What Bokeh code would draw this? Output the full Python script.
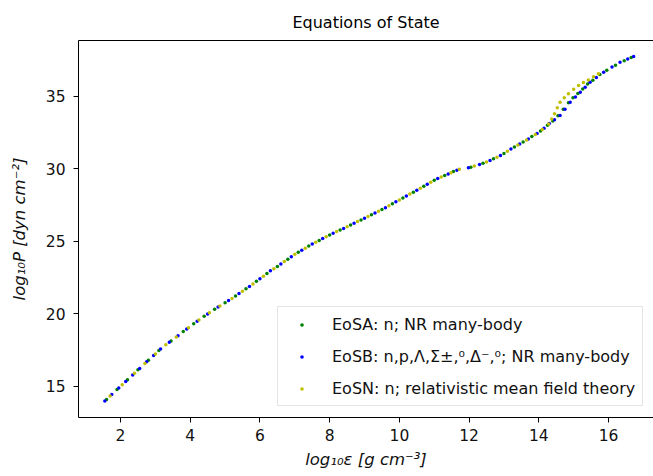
from bokeh.plotting import figure
from bokeh.models import Range1d, LinearAxis, FixedTicker, Legend, LegendItem, ColumnDataSource
from bokeh.embed import file_html
from bokeh.resources import INLINE

# ---- data (log10 energy density, log10 pressure) ----
eosa_x = [1.6, 1.9, 2.2, 2.5, 2.8, 3.1, 3.45, 3.8, 4.1, 4.4, 4.7, 5.0, 5.3, 5.6, 5.9, 6.2,
          6.5, 6.8, 7.1, 7.4, 7.7, 8.0, 8.3, 8.6, 8.9, 9.2, 9.5, 9.8, 10.1, 10.4, 10.7, 11.0,
          11.3, 11.55, 12.05, 12.4, 12.7, 13.0, 13.3, 13.55, 13.8, 14.05, 14.25, 14.4, 14.55,
          14.7, 14.85, 14.98, 15.12, 15.26, 15.4, 15.55, 15.75, 15.95, 16.2, 16.45, 16.65]
eosa_y = [14.08, 14.76, 15.43, 16.12, 16.78, 17.45, 18.11, 18.76, 19.3, 19.82, 20.3, 20.75,
          21.22, 21.72, 22.23, 22.77, 23.25, 23.76, 24.24, 24.67, 25.05, 25.42, 25.77, 26.12,
          26.46, 26.82, 27.18, 27.58, 27.98, 28.38, 28.79, 29.2, 29.54, 29.8, 30.11, 30.38,
          30.68, 31.05, 31.5, 31.85, 32.22, 32.6, 33.0, 33.3, 33.65, 34.1, 34.55, 34.9, 35.2,
          35.5, 35.85, 36.1, 36.5, 36.8, 37.15, 37.45, 37.68]

eosb_x = [1.55, 1.75, 1.95, 2.15, 2.35, 2.55, 2.75, 2.95, 3.15, 3.4, 3.65, 3.9, 4.2, 4.5, 4.8,
          5.1, 5.4, 5.7, 6.0, 6.3, 6.6, 6.9, 7.2, 7.5, 7.8, 8.1, 8.4, 8.7, 9.0, 9.3, 9.6, 9.9,
          10.2, 10.5, 10.8, 11.1, 11.4, 11.65, 11.98, 12.3, 12.6, 12.9, 13.2, 13.45, 13.7, 13.95,
          14.15, 14.3, 14.45, 14.61, 14.75, 14.9, 15.05, 15.19, 15.33, 15.47, 15.65, 15.86,
          16.1, 16.33, 16.55, 16.72]
eosb_y = [13.97, 14.42, 14.87, 15.32, 15.77, 16.22, 16.67, 17.11, 17.55, 18.02, 18.48, 18.94,
          19.47, 19.98, 20.45, 20.9, 21.38, 21.88, 22.4, 22.95, 23.42, 23.93, 24.38, 24.8,
          25.18, 25.54, 25.88, 26.23, 26.58, 26.94, 27.31, 27.72, 28.12, 28.52, 28.93, 29.32,
          29.64, 29.9, 30.06, 30.3, 30.56, 30.92, 31.36, 31.71, 32.06, 32.43, 32.8, 33.12,
          33.38, 33.67, 34.1, 34.59, 34.95, 35.28, 35.62, 35.97, 36.3, 36.66, 37.02, 37.35,
          37.58, 37.74]

eosn_x = [1.7, 2.05, 2.4, 2.7, 3.0, 3.3, 3.6, 3.95, 4.25, 4.55, 4.85, 5.2, 5.5, 5.8, 6.1, 6.4,
          6.7, 7.0, 7.3, 7.6, 7.9, 8.2, 8.5, 8.8, 9.1, 9.4, 9.7, 10.0, 10.3, 10.6, 10.9, 11.2,
          11.48, 11.72, 12.15, 12.5, 12.8, 13.1, 13.4, 13.65, 13.9, 14.1, 14.28, 14.37, 14.45,
          14.53, 14.61, 14.73, 14.85, 15.0, 15.14, 15.28, 15.42, 15.57, 15.71]
eosn_y = [14.31, 15.09, 15.88, 16.56, 17.22, 17.85, 18.39, 19.03, 19.56, 20.06, 20.53, 21.05,
          21.55, 22.05, 22.58, 23.1, 23.6, 24.1, 24.52, 24.93, 25.3, 25.66, 26.0, 26.35, 26.7,
          27.06, 27.45, 27.85, 28.25, 28.66, 29.07, 29.43, 29.73, 29.96, 30.18, 30.46, 30.8,
          31.2, 31.64, 31.99, 32.36, 32.7, 33.09, 33.44, 33.8, 34.2, 34.59, 34.9, 35.17, 35.48,
          35.74, 35.95, 36.13, 36.35, 36.55]

labels = ["EoSA: n; NR many-body",
          "EoSB: n,p,Λ,Σ±,⁰,Δ⁻,⁰; NR many-body",
          "EoSN: n; relativistic mean field theory"]
colors = ["#008000", "#0000ff", "#bfbf00"]
x_ticks = [2, 4, 6, 8, 10, 12, 14, 16]
y_ticks = [15, 20, 25, 30, 35]

FONT = "DejaVu Sans"

p = figure(width=653, height=476, output_backend="svg", toolbar_location=None,
           x_range=Range1d(0.795, 17.29), y_range=Range1d(12.83, 38.85),
           min_border_left=78, min_border_right=0, min_border_top=40, min_border_bottom=59,
           outline_line_color=None)

p.title.text = "Equations of State"
p.title.align = "center"
p.title.text_font = FONT
p.title.text_font_size = "16px"
p.title.text_font_style = "normal"
p.title.text_color = "#000000"
p.title.standoff = 17

p.xgrid.visible = False
p.ygrid.visible = False

for ax, ticks in ((p.xaxis[0], x_ticks), (p.yaxis[0], y_ticks)):
    ax.ticker = FixedTicker(ticks=ticks)
    ax.minor_tick_line_color = None
    ax.major_tick_in = 0
    ax.major_tick_out = 5
    ax.major_tick_line_color = "#000000"
    ax.axis_line_color = "#000000"
    ax.major_label_text_font = FONT
    ax.major_label_text_font_size = "15.5px"
    ax.major_label_text_color = "#111111"
    ax.axis_label_text_font = FONT
    ax.axis_label_text_font_size = "16.5px"
    ax.axis_label_text_font_style = "italic"
    ax.axis_label_text_color = "#111111"

p.xaxis[0].axis_label = "log₁₀ε [g cm⁻³]"
p.yaxis[0].axis_label = "log₁₀P [dyn cm⁻²]"
p.xaxis[0].major_label_standoff = 6
p.yaxis[0].major_label_standoff = 8
p.xaxis[0].axis_label_standoff = 6
p.yaxis[0].axis_label_standoff = 14

# top spine
top = LinearAxis(ticker=FixedTicker(ticks=[]), major_tick_line_color=None,
                 minor_tick_line_color=None, axis_line_color="#000000")
p.add_layout(top, "above")

renderers = []
for xs, ys, c in ((eosa_x, eosa_y, colors[0]), (eosb_x, eosb_y, colors[1]), (eosn_x, eosn_y, colors[2])):
    src = ColumnDataSource(dict(x=xs, y=ys))
    r = p.scatter("x", "y", source=src, size=3.5, marker="circle",
                  fill_color=c, line_color=None)
    renderers.append(r)

legend = Legend(items=[LegendItem(label=labels[i], renderers=[renderers[i]]) for i in range(3)],
                location=(199, 11), orientation="vertical")
legend.border_line_color = "#cccccc"
legend.border_line_width = 1
legend.background_fill_alpha = 0.8
legend.padding = 7
legend.spacing = 12
legend.margin = 0
legend.label_height = 20
legend.glyph_height = 9
legend.glyph_width = 33
legend.label_standoff = 14
legend.label_text_font = FONT
legend.label_text_font_size = "16px"
legend.label_text_color = "#111111"
p.add_layout(legend)

open("out.html", "w").write(file_html(p, INLINE))
